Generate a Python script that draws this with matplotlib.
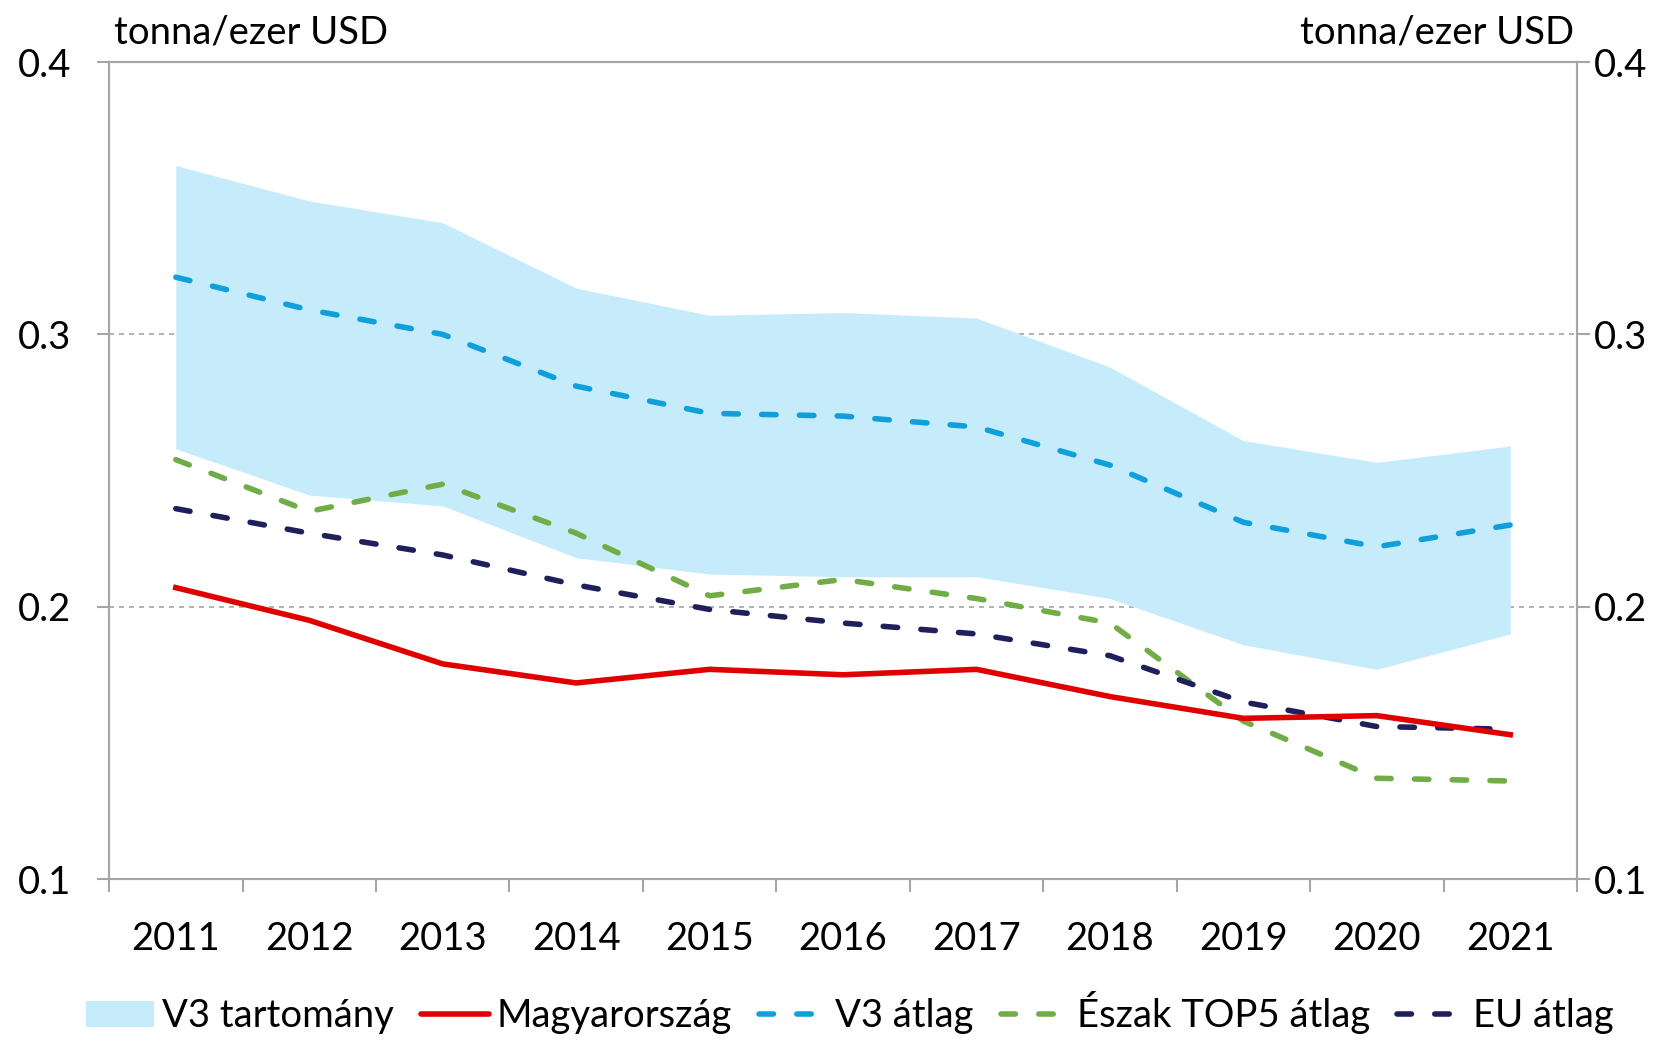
import numpy as np
import matplotlib.pyplot as plt
from matplotlib.patches import Patch
from matplotlib.lines import Line2D

plt.rcParams['font.family'] = ['Lato', 'DejaVu Sans']

# adatok (tonna/ezer USD)
evek = ['2011', '2012', '2013', '2014', '2015', '2016', '2017', '2018', '2019', '2020', '2021']
v3_also = [0.258, 0.241, 0.237, 0.218, 0.212, 0.211, 0.211, 0.203, 0.186, 0.177, 0.190]
v3_felso = [0.362, 0.349, 0.341, 0.317, 0.307, 0.308, 0.306, 0.288, 0.261, 0.253, 0.259]
magyar = [0.207, 0.195, 0.179, 0.172, 0.177, 0.175, 0.177, 0.167, 0.159, 0.160, 0.153]
v3_atlag = [0.321, 0.309, 0.300, 0.281, 0.271, 0.270, 0.266, 0.252, 0.231, 0.222, 0.230]
eszak = [0.254, 0.235, 0.245, 0.227, 0.204, 0.210, 0.203, 0.194, 0.158, 0.137, 0.136]
eu = [0.236, 0.227, 0.219, 0.208, 0.199, 0.194, 0.190, 0.182, 0.165, 0.156, 0.155]

x = np.arange(len(evek))
szurke = '#A6A6A6'
kek_sav = '#C6ECFC'
LW = 4.0
SZAGGATOTT = (2.6, 4.2)
FS = 27.5

fig = plt.figure(figsize=(16.73, 10.41), dpi=100)
ax = fig.add_axes([0.0652, 0.1556, 0.8774, 0.7848])

ax.fill_between(x, v3_also, v3_felso, color=kek_sav, linewidth=0, zorder=1)
ax.plot(x, magyar, color='#E00000', lw=LW, zorder=5)
ax.plot(x, v3_atlag, color='#0FA0DC', lw=LW, dashes=SZAGGATOTT, dash_capstyle='round', zorder=4)
ax.plot(x, eszak, color='#70AD47', lw=LW, dashes=SZAGGATOTT, dash_capstyle='round', zorder=3)
ax.plot(x, eu, color='#1F1F5C', lw=LW, dashes=SZAGGATOTT, dash_capstyle='round', zorder=4)

ax.set_xlim(-0.5, len(evek) - 0.5)
ax.set_ylim(0.1, 0.4)
yt = [0.1, 0.2, 0.3, 0.4]
ax.set_yticks(yt)
ax.set_yticklabels(['0.1', '0.2', '0.3', '0.4'])
for y in [0.2, 0.3]:
    ax.axhline(y, color=szurke, lw=1.2, ls=(0, (3, 3)), zorder=0)

ax.set_xticks(np.arange(-0.5, len(evek), 1.0))
ax.set_xticklabels([])
ax.set_xticks(x, minor=True)
ax.set_xticklabels(evek, minor=True)
ax.tick_params(axis='x', which='major', length=9, width=1.5, color=szurke, direction='out')
ax.tick_params(axis='x', which='minor', length=0, pad=30, labelsize=FS)
ax.tick_params(axis='y', length=9, width=1.5, color=szurke, labelsize=FS, pad=18)
for s in ax.spines.values():
    s.set_color(szurke)
    s.set_linewidth(1.5)

# jobb oldali tengely ugyanazzal a skálával
ax2 = ax.twinx()
ax2.set_ylim(ax.get_ylim())
ax2.set_yticks(yt)
ax2.set_yticklabels(['0.1', '0.2', '0.3', '0.4'])
ax2.tick_params(axis='y', length=9, width=1.5, color=szurke, labelsize=FS, pad=3)
for s in ax2.spines.values():
    s.set_color(szurke)
    s.set_linewidth(1.5)

fig.text(0.068, 0.969, 'tonna/ezer USD', fontsize=FS, ha='left', va='center')
fig.text(0.941, 0.969, 'tonna/ezer USD', fontsize=FS, ha='right', va='center')

kezelok = [
    Patch(facecolor=kek_sav, edgecolor='none'),
    Line2D([], [], color='#E00000', lw=LW, solid_capstyle='round'),
    Line2D([], [], color='#0FA0DC', lw=LW, dashes=SZAGGATOTT, dash_capstyle='round'),
    Line2D([], [], color='#70AD47', lw=LW, dashes=SZAGGATOTT, dash_capstyle='round'),
    Line2D([], [], color='#1F1F5C', lw=LW, dashes=SZAGGATOTT, dash_capstyle='round'),
]
nevek = ['V3 tartomány', 'Magyarország', 'V3 átlag', 'Észak TOP5 átlag', 'EU átlag']
fig.legend(kezelok, nevek, loc='center', bbox_to_anchor=(0.508, 0.027), ncol=5, frameon=False,
           fontsize=27.5, handlelength=1.8, handletextpad=0.2, columnspacing=0.7,
           borderpad=0.1)

fig.savefig('out.png', dpi=100)
